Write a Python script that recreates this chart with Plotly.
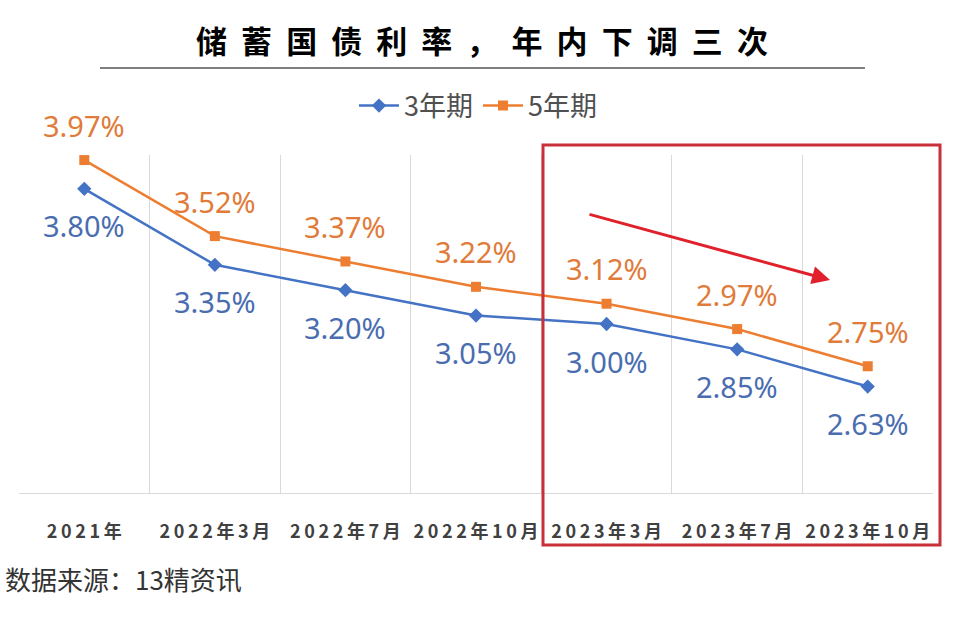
import plotly.graph_objects as go

categories = ["2021年", "2022年3月", "2022年7月", "2022年10月", "2023年3月", "2023年7月", "2023年10月"]
rate_3y = [3.80, 3.35, 3.20, 3.05, 3.00, 2.85, 2.63]
rate_5y = [3.97, 3.52, 3.37, 3.22, 3.12, 2.97, 2.75]
title_text = "储蓄国债利率，年内下调三次"
source_text = "数据来源：13精资讯"

BLUE = "#4472C4"
ORANGE = "#ED7D31"
BLUE_TXT = "#4A6DB0"
ORANGE_TXT = "#E07B39"

W, H = 956, 636
L, R, T, B = 19, 23, 155, 143
pw, ph = W - L - R, H - T - B

def px(x):
    return (x - L) / pw

def py(y):
    return (H - B - y) / ph

def spaced(s, sep):
    return sep.join(list(s))

fig = go.Figure()
fig.add_trace(go.Scatter(x=categories, y=rate_3y, mode="lines+markers", name="3年期",
                         line=dict(color=BLUE, width=2.5),
                         marker=dict(symbol="diamond", size=11, color=BLUE)))
fig.add_trace(go.Scatter(x=categories, y=rate_5y, mode="lines+markers", name="5年期",
                         line=dict(color=ORANGE, width=2.5),
                         marker=dict(symbol="square", size=10, color=ORANGE)))

label_font = "Noto Sans, Open Sans, sans-serif"
for c, v in zip(categories, rate_3y):
    fig.add_annotation(x=c, y=v, text=f"{v:.2f}%", showarrow=False, yshift=-37,
                       font=dict(family=label_font, size=29, color=BLUE_TXT))
for c, v in zip(categories, rate_5y):
    fig.add_annotation(x=c, y=v, text=f"{v:.2f}%", showarrow=False, yshift=35,
                       font=dict(family=label_font, size=29, color=ORANGE_TXT))

# title
fig.add_annotation(xref="paper", yref="paper", x=px(482), y=py(39), xanchor="center", yanchor="middle",
                   text=spaced(title_text, "\u00a0 "), showarrow=False,
                   font=dict(family="Noto Sans CJK SC", size=31, color="#000000", weight="bold"))
fig.add_shape(type="line", xref="paper", yref="paper", x0=px(100), x1=px(865), y0=py(68), y1=py(68),
              line=dict(color="#000000", width=1))

# source
fig.add_annotation(xref="paper", yref="paper", x=px(3), y=py(578), xanchor="left", yanchor="middle",
                   text=source_text, showarrow=False,
                   font=dict(family="Noto Sans CJK SC", size=26, color="#333333"))

# red box
fig.add_shape(type="rect", xref="paper", yref="paper", x0=px(543), x1=px(940), y0=py(545), y1=py(145),
              line=dict(color="#C8303A", width=3))
# red arrow
fig.add_annotation(xref="paper", yref="paper", x=px(830), y=py(280), ax=588 - 830, ay=214 - 280,
                   axref="pixel", ayref="pixel", text="", showarrow=True,
                   arrowhead=2, arrowsize=1.2, arrowwidth=3, arrowcolor="#E0202A")

fig.update_layout(
    width=W, height=H,
    margin=dict(l=L, r=R, t=T, b=B, autoexpand=False),
    paper_bgcolor="white", plot_bgcolor="white",
    showlegend=True,
    legend=dict(orientation="h", x=px(478), y=py(106), xanchor="center", yanchor="middle",
                font=dict(family="Noto Sans CJK SC", size=27, color="#505050"),
                itemwidth=40, bgcolor="rgba(0,0,0,0)"),
    xaxis=dict(type="category", tickson="boundaries", showgrid=True, gridcolor="#D9D9D9", gridwidth=1,
               showline=True, linecolor="#D9D9D9", ticks="", ticklabelstandoff=22,
               tickmode="array", tickvals=categories, tickangle=0, automargin=False,
               ticktext=[spaced(c, "\u2009") for c in categories],
               tickfont=dict(family="Noto Sans CJK SC", size=18, color="#404040", weight="bold"),
               range=[-0.5, 6.5], zeroline=False),
    yaxis=dict(range=[2.0, 4.0], showgrid=False, showticklabels=False, zeroline=False, showline=False),
)

fig.write_html("out.html")
